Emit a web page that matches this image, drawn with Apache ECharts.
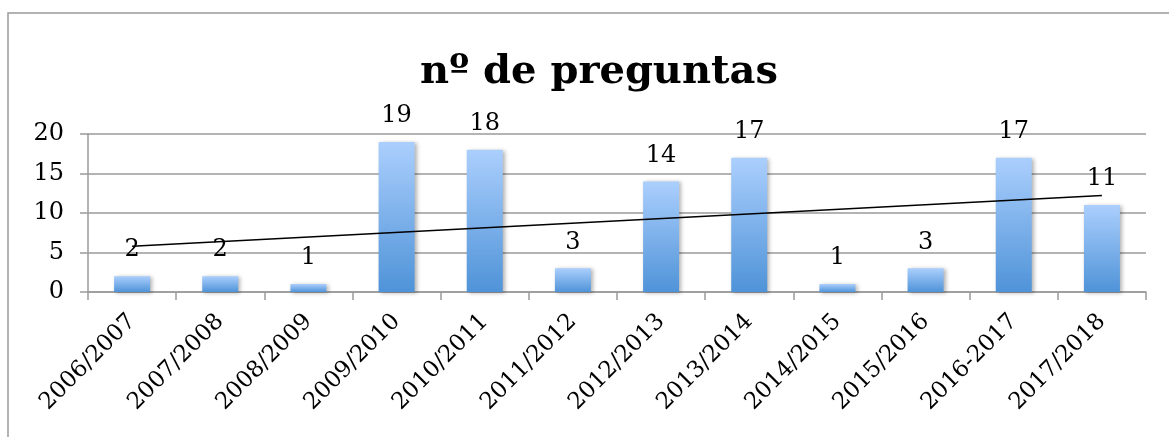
<!DOCTYPE html>
<html>
<head>
<meta charset="utf-8">
<script src="https://cdn.jsdelivr.net/npm/echarts@6/dist/echarts.min.js"></script>
<style>
  html, body { margin: 0; padding: 0; background: #fff; }
  #chart { width: 1169px; height: 437px; }
</style>
</head>
<body>
<div id="chart"></div>
<script>
const seasons = ['2006/2007', '2007/2008', '2008/2009', '2009/2010', '2010/2011', '2011/2012',
  '2012/2013', '2013/2014', '2014/2015', '2015/2016', '2016-2017', '2017/2018']
const questions = [2, 2, 1, 19, 18, 3, 14, 17, 1, 3, 17, 11]
// trend line ends (first and last season)
const trendEnds = [5.8, 12.2]
const yTicks = [0, 5, 10, 15, 20]

const font = 'DejaVu Serif'
const myChart = echarts.init(document.getElementById('chart'))

const option = {
  animation: false,
  title: {
    text: 'nº de preguntas',
    left: 594,
    textAlign: 'center',
    top: 48,
    textStyle: { fontFamily: font, fontWeight: 'bold', fontSize: 40, color: '#000' },
  },
  graphic: [
    {
      type: 'rect',
      shape: { x: 8, y: 13, width: 1300, height: 600 },
      style: { fill: 'none', stroke: '#9a9a9a', lineWidth: 1.5 },
      silent: true,
    },
  ],
  grid: { left: 88, right: 23, top: 134, bottom: 145 },
  xAxis: {
    type: 'category',
    data: seasons,
    axisLine: { lineStyle: { color: '#9a9a9a', width: 1.5 } },
    axisTick: { show: true, length: 8, lineStyle: { color: '#9a9a9a', width: 1.5 } },
    axisLabel: {
      rotate: 45,
      margin: 26,
      fontFamily: font,
      fontSize: 23,
      color: '#000',
      interval: 0,
    },
  },
  yAxis: {
    type: 'value',
    min: yTicks[0],
    max: yTicks[yTicks.length - 1],
    interval: 5,
    axisLine: { show: true, lineStyle: { color: '#9a9a9a', width: 1.5 } },
    axisTick: { show: true, length: 8, lineStyle: { color: '#9a9a9a', width: 1.5 } },
    axisLabel: { fontFamily: font, fontSize: 24, color: '#000', margin: 24 },
    splitLine: { lineStyle: { color: '#9a9a9a', width: 1.5 } },
  },
  series: [
    {
      type: 'bar',
      data: questions,
      barWidth: 36,
      itemStyle: {
        color: new echarts.graphic.LinearGradient(0, 0, 0, 1, [
          { offset: 0, color: '#abcffd' },
          { offset: 1, color: '#4f93d8' },
        ]),
        shadowBlur: 4,
        shadowColor: 'rgba(0,0,0,0.3)',
        shadowOffsetX: 2,
        shadowOffsetY: 1,
      },
      label: {
        show: true,
        position: 'top',
        distance: 14,
        fontFamily: font,
        fontSize: 24,
        color: '#000',
      },
      markLine: {
        silent: true,
        symbol: 'none',
        label: { show: false },
        lineStyle: { color: '#000', width: 1.5, type: 'solid' },
        data: [
          [
            { coord: [seasons[0], trendEnds[0]] },
            { coord: [seasons[seasons.length - 1], trendEnds[1]] },
          ],
        ],
      },
    },
  ],
}

myChart.setOption(option)
</script>
</body>
</html>
